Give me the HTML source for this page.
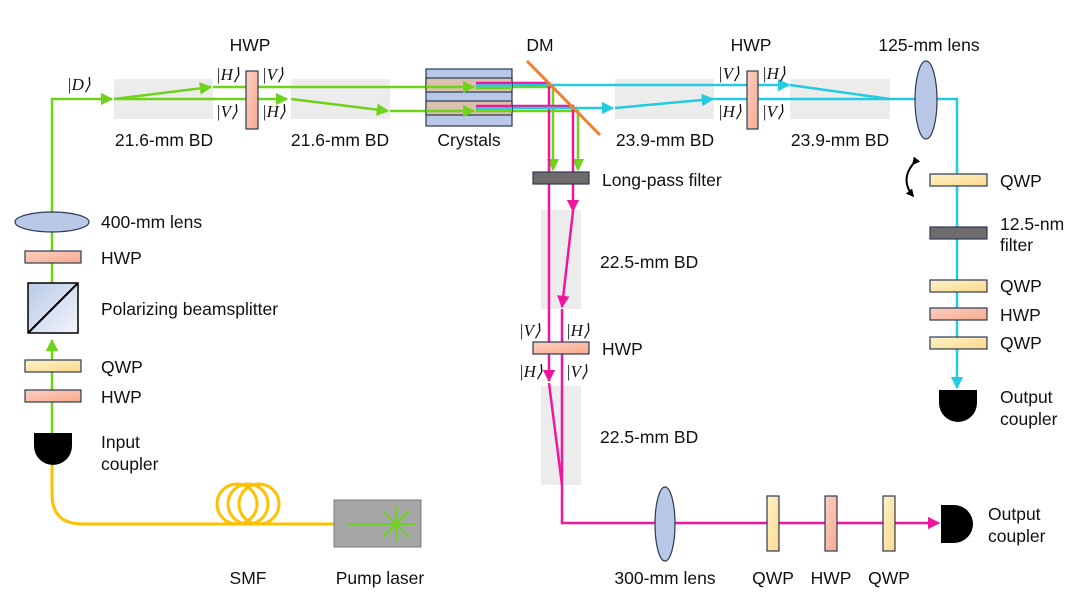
<!DOCTYPE html>
<html><head><meta charset="utf-8"><style>
html,body{margin:0;padding:0;background:#fff;}
svg{display:block;}
text{font-family:"Liberation Sans",sans-serif;font-size:17.5px;fill:#111;}
.k{font-family:"Liberation Serif",serif;font-style:italic;font-size:17px;}
</style></head><body>
<svg width="1080" height="607" viewBox="0 0 1080 607" xmlns="http://www.w3.org/2000/svg">
<defs>
<marker id="ag" viewBox="0 0 10 10" refX="9" refY="5" markerWidth="5" markerHeight="5" orient="auto"><path d="M0,0L10,5L0,10z" fill="#6fd31c"/></marker>
<marker id="am" viewBox="0 0 10 10" refX="9" refY="5" markerWidth="5" markerHeight="5" orient="auto"><path d="M0,0L10,5L0,10z" fill="#f0169e"/></marker>
<marker id="ac" viewBox="0 0 10 10" refX="9" refY="5" markerWidth="5" markerHeight="5" orient="auto"><path d="M0,0L10,5L0,10z" fill="#22cbe0"/></marker>
<marker id="ak" viewBox="0 0 10 10" refX="8" refY="5" markerWidth="4" markerHeight="4" orient="auto"><path d="M0,0L10,5L0,10z" fill="#000"/></marker>
<linearGradient id="hw" x1="0" y1="0" x2="1" y2="1"><stop offset="0" stop-color="#fbd0c0"/><stop offset="1" stop-color="#f8a98e"/></linearGradient>
<linearGradient id="qw" x1="0" y1="0" x2="1" y2="1"><stop offset="0" stop-color="#fff2c8"/><stop offset="1" stop-color="#fbd98a"/></linearGradient>
<linearGradient id="pb" x1="0" y1="0" x2="1" y2="1"><stop offset="0" stop-color="#b7c8e6"/><stop offset="1" stop-color="#f4f6fc"/></linearGradient>
</defs>
<g fill="#ececec">
<rect x="114" y="79" width="99" height="40"/><rect x="291" y="79" width="99" height="40"/>
<rect x="615" y="79" width="99" height="40"/><rect x="790" y="79" width="100" height="40"/>
<rect x="541" y="210" width="40" height="99"/><rect x="541" y="386" width="40" height="99"/>
</g>
<g fill="none" stroke="#ffc000" stroke-width="3">
<path d="M52,465 V494 Q52,524 82,524 H334"/>
<circle cx="237" cy="504" r="20"/><circle cx="248" cy="504" r="20"/><circle cx="259" cy="504" r="20"/>
</g>
<g fill="none" stroke="#6fd31c" stroke-width="2.5">
<path d="M52,433 V340" marker-end="url(#ag)"/>
<path d="M52,283 V99 H112" marker-end="url(#ag)"/>
<path d="M114,99 L211,87" marker-end="url(#ag)"/>
<path d="M213,87 H474" marker-end="url(#ag)"/>
<path d="M114,99 H287" marker-end="url(#ag)"/>
<path d="M291,99 L388,111" marker-end="url(#ag)"/>
<path d="M390,111 H474" marker-end="url(#ag)"/>
<path d="M476,87 H553 V170" marker-end="url(#ag)"/>
<path d="M476,111 H578 V170" marker-end="url(#ag)"/>
</g>
<g fill="none" stroke="#f0169e" stroke-width="2.5">
<path d="M476,83 H549 V381" marker-end="url(#am)"/>
<path d="M549,383 L562,485 V523 H939" marker-end="url(#am)"/>
<path d="M476,106 H573 V211" marker-end="url(#am)"/>
<path d="M573,211 L562,307" marker-end="url(#am)"/>
<path d="M562,309 V485"/>
</g>
<g fill="none" stroke="#22cbe0" stroke-width="2.5">
<path d="M476,85 H789" marker-end="url(#ac)"/>
<path d="M790,85 L890,99 H957 V388" marker-end="url(#ac)"/>
<path d="M476,108 H613" marker-end="url(#ac)"/>
<path d="M615,108 L713,99" marker-end="url(#ac)"/>
<path d="M713,99 H890"/>
</g>
<g stroke="#2b3a55" stroke-width="1.2">
<rect x="426" y="69" width="86" height="57" fill="#b8c8e6"/>
<rect x="426" y="78" width="86" height="14" fill="#dcc0ae"/>
<rect x="426" y="101" width="86" height="14" fill="#dcc0ae"/>
</g>
<g fill="none" stroke-width="2.5">
<path d="M426,87 H474" stroke="#6fd31c" marker-end="url(#ag)"/>
<path d="M426,111 H474" stroke="#6fd31c" marker-end="url(#ag)"/>
<path d="M476,83 H512" stroke="#f0169e"/><path d="M476,85.5 H512" stroke="#22cbe0"/><path d="M476,88 H512" stroke="#6fd31c"/>
<path d="M476,106 H512" stroke="#f0169e"/><path d="M476,108.5 H512" stroke="#22cbe0"/><path d="M476,111 H512" stroke="#6fd31c"/>
</g>
<line x1="527" y1="61" x2="600" y2="135" stroke="#f08030" stroke-width="3"/>
<g stroke="#2b3a55" stroke-width="1.2">
<rect x="246" y="71" width="12" height="58" fill="url(#hw)"/>
<rect x="747" y="71" width="11" height="58" fill="url(#hw)"/>
<rect x="533" y="172" width="56" height="12" fill="#6f6b6b"/>
<rect x="533" y="342" width="56" height="12" fill="url(#hw)"/>
<rect x="930" y="174" width="57" height="12" fill="url(#qw)"/>
<rect x="930" y="227" width="57" height="12" fill="#6f6b6b"/>
<rect x="930" y="280" width="57" height="12" fill="url(#qw)"/>
<rect x="930" y="308" width="57" height="12" fill="url(#hw)"/>
<rect x="930" y="337" width="57" height="12" fill="url(#qw)"/>
<rect x="25" y="251" width="56" height="12" fill="url(#hw)"/>
<rect x="25" y="360" width="56" height="12" fill="url(#qw)"/>
<rect x="25" y="390" width="56" height="12" fill="url(#hw)"/>
<rect x="767" y="496" width="12" height="55" fill="url(#qw)"/>
<rect x="825" y="496" width="12" height="55" fill="url(#hw)"/>
<rect x="883" y="496" width="12" height="55" fill="url(#qw)"/>
<ellipse cx="926" cy="100" rx="11" ry="39" fill="#b8c8e6"/>
<ellipse cx="665" cy="524" rx="10" ry="37" fill="#b8c8e6"/>
<ellipse cx="52" cy="222" rx="37" ry="10" fill="#b8c8e6"/>
</g>
<rect x="28" y="283" width="50" height="50" fill="url(#pb)" stroke="#000" stroke-width="1.5"/>
<line x1="28" y1="333" x2="78" y2="283" stroke="#000" stroke-width="2"/>
<path d="M34,433 H72 V446 A19,19 0 0 1 34,446 Z" fill="#000"/>
<path d="M939,390 H977 V403 A19,19 0 0 1 939,403 Z" fill="#000"/>
<path d="M941,505 V543 H954 A19,19 0 0 0 954,505 Z" fill="#000"/>
<rect x="334" y="500" width="87" height="47" fill="#a6a6a6" stroke="#7a7a7a" stroke-width="1"/>
<g stroke="#6fd31c" stroke-width="2"><line x1="348" y1="524" x2="415" y2="524"/><line x1="396" y1="506" x2="396" y2="542"/><line x1="383" y1="511" x2="409" y2="537"/><line x1="383" y1="537" x2="409" y2="511"/></g>
<path d="M913,164 Q900,180 913,196" fill="none" stroke="#000" stroke-width="2" marker-start="url(#ak)" marker-end="url(#ak)"/>
<text x="250" y="51" text-anchor="middle">HWP</text>
<text x="540" y="51" text-anchor="middle">DM</text>
<text x="751" y="51" text-anchor="middle">HWP</text>
<text x="929" y="51" text-anchor="middle">125-mm lens</text>
<text x="164" y="146" text-anchor="middle">21.6-mm BD</text>
<text x="340" y="146" text-anchor="middle">21.6-mm BD</text>
<text x="469" y="146" text-anchor="middle">Crystals</text>
<text x="665" y="146" text-anchor="middle">23.9-mm BD</text>
<text x="840" y="146" text-anchor="middle">23.9-mm BD</text>
<text x="602" y="186">Long-pass filter</text>
<text x="600" y="268">22.5-mm BD</text>
<text x="602" y="355">HWP</text>
<text x="600" y="443">22.5-mm BD</text>
<text x="101" y="228">400-mm lens</text>
<text x="101" y="264">HWP</text>
<text x="101" y="315">Polarizing beamsplitter</text>
<text x="101" y="373">QWP</text>
<text x="101" y="403">HWP</text>
<text x="101" y="448">Input</text>
<text x="101" y="470">coupler</text>
<text x="248" y="584" text-anchor="middle">SMF</text>
<text x="380" y="584" text-anchor="middle">Pump laser</text>
<text x="665" y="584" text-anchor="middle">300-mm lens</text>
<text x="773" y="584" text-anchor="middle">QWP</text>
<text x="831" y="584" text-anchor="middle">HWP</text>
<text x="889" y="584" text-anchor="middle">QWP</text>
<text x="988" y="520">Output</text>
<text x="988" y="542">coupler</text>
<text x="1000" y="187">QWP</text>
<text x="1000" y="230">12.5-nm</text>
<text x="1000" y="251">filter</text>
<text x="1000" y="292">QWP</text>
<text x="1000" y="321">HWP</text>
<text x="1000" y="349">QWP</text>
<text x="1000" y="403">Output</text>
<text x="1000" y="425">coupler</text>
<text class="k" x="67" y="90">|D⟩</text>
<text class="k" x="216" y="80">|H⟩</text><text class="k" x="262" y="80">|V⟩</text>
<text class="k" x="216" y="117">|V⟩</text><text class="k" x="262" y="117">|H⟩</text>
<text class="k" x="718" y="79">|V⟩</text><text class="k" x="762" y="79">|H⟩</text>
<text class="k" x="718" y="117">|H⟩</text><text class="k" x="762" y="117">|V⟩</text>
<text class="k" x="519" y="336">|V⟩</text><text class="k" x="566" y="336">|H⟩</text>
<text class="k" x="519" y="377">|H⟩</text><text class="k" x="566" y="377">|V⟩</text>
</svg>
</body></html>
